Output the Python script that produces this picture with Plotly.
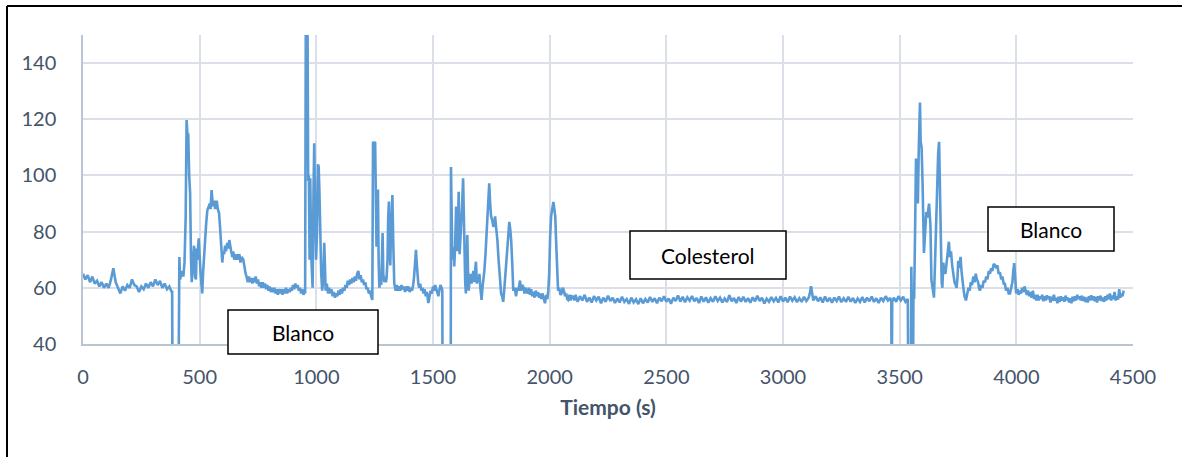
import plotly.graph_objects as go

# ---------------- data ----------------
# segment 1: first baseline, 0-411 s (with dip below the axis)
t_seg1 = [0, 10, 20, 30, 40, 50, 60, 70, 80, 90, 100, 110, 120, 130, 140, 150, 160, 170, 180, 190,
          200, 210, 220, 230, 240, 250, 260, 270, 280, 290, 300, 310, 320, 330, 340, 350, 360, 370,
          380, 382, 384, 409, 411]
v_seg1 = [65, 63, 64.5, 62, 64, 61.5, 62.5, 60.5, 62, 60, 61.5, 60, 63, 67, 62, 60, 58, 60.5, 59, 61,
          60, 63, 61, 60.5, 58.5, 60.5, 59.5, 61.5, 60, 62, 60.5, 63, 61, 62.5, 60, 61.5, 59.5, 60.5,
          58.5, 59, 20, 20, 71]

# segment 2: first Blanco peaks, 413-1050 s
t_seg2 = [413, 416, 420, 425, 430, 435, 440, 444, 448, 451, 455, 459, 463, 466, 470, 476, 480, 484,
          487, 490, 496, 500, 504, 508, 511, 515, 519, 523, 528, 533, 538, 544, 547, 551, 555, 558,
          562, 566, 570, 573, 578, 583, 587, 590, 594, 597, 601, 605, 609, 613, 618, 623, 627, 630,
          635, 640, 644, 648, 652, 656, 660, 666, 670, 675, 680, 687, 692, 697, 701, 706, 711, 716,
          721, 726, 731, 736, 740, 745, 750, 755, 760, 765, 770, 775, 780, 785, 790, 795, 800, 805,
          810, 815, 820, 825, 830, 835, 840, 845, 850, 855, 860, 865, 870, 875, 880, 885, 890, 895,
          900, 905, 910, 915, 920, 925, 930, 935, 940, 945, 950, 952, 955, 959, 962, 965, 968, 971,
          974, 978, 981, 984, 988, 991, 995, 999, 1003, 1007, 1010, 1013, 1017, 1021, 1025, 1029,
          1034, 1037, 1040, 1045, 1050]
v_seg2 = [71, 63, 64, 66, 64, 69, 85, 119.7, 114, 115, 100, 94, 70, 62, 68, 75, 64, 63,
          74, 70, 77.6, 68, 65, 61, 58, 66, 72, 77.6, 83, 87.7, 89, 90, 88, 94.8, 91, 89,
          91, 88, 90, 91, 88, 86.6, 82, 77.6, 72, 69, 73, 72, 75, 73, 76, 74, 77, 75,
          73, 71, 73, 70, 72, 70, 72, 70, 72, 69, 71, 70, 67, 65, 64, 62, 64, 62,
          63.5, 61.5, 63.5, 62, 64, 61.5, 63, 60.5, 62, 60, 62, 60, 61.5, 59.5, 61, 59, 60.5, 58.5,
          60, 58.5, 60, 58, 59.5, 57.5, 59.5, 58, 59.5, 57.5, 59.5, 58, 60, 58, 59.5, 58.5, 60, 59,
          61, 59.5, 61.5, 60, 61, 59, 60, 58, 59.5, 57.5, 59, 58, 160, 160, 160, 98, 100, 70,
          99, 72, 65, 60, 95, 111.5, 88, 70, 80, 104, 103, 95, 78, 65, 59, 62,
          76, 65, 59, 61.5, 58]

# segment 3: 1055-1576 s (with dip below the axis)
t_seg3 = [1055, 1060, 1065, 1070, 1075, 1080, 1085, 1090, 1095, 1100, 1105, 1110, 1115, 1120, 1125,
          1130, 1135, 1140, 1145, 1150, 1155, 1160, 1165, 1170, 1175, 1180, 1185, 1190, 1195, 1200,
          1205, 1210, 1215, 1220, 1225, 1230, 1235, 1240, 1243, 1248, 1252, 1256, 1258, 1261, 1264,
          1267, 1270, 1274, 1278, 1281, 1284, 1287, 1291, 1295, 1298, 1301, 1305, 1308, 1311, 1314,
          1317, 1320, 1323, 1326, 1330, 1334, 1340, 1345, 1350, 1355, 1360, 1365, 1370, 1375, 1380,
          1385, 1390, 1395, 1400, 1405, 1410, 1415, 1419, 1423, 1427, 1431, 1434, 1437, 1441, 1445,
          1450, 1455, 1459, 1464, 1469, 1474, 1480, 1485, 1490, 1495, 1500, 1505, 1509, 1514, 1518,
          1523, 1528, 1532, 1537, 1540, 1541, 1576]
v_seg3 = [60, 58, 59.5, 57, 58.5, 56.5, 58, 57, 59, 57.5, 59.5, 58, 60, 59, 61,
          60, 62.5, 61, 63, 61.5, 63.5, 62, 64, 62.5, 65, 66, 63, 64.5, 62, 63,
          61, 62, 59.5, 60, 58, 59, 57, 55.7, 112, 111, 112, 95, 74.6, 80, 95,
          70, 60, 63, 61, 70, 79.5, 65, 62, 64, 62, 63.5, 70, 85, 90.7, 75,
          68, 80, 90, 93, 75, 61.5, 59, 61, 59, 60.5, 59, 61, 59.5, 60.5, 58.5,
          60.5, 59, 60.5, 58.5, 60, 59, 61, 64, 68, 73.5, 68, 63, 61.5, 60, 61.5,
          59, 60, 58, 59.5, 57, 58.5, 54.6, 57, 59, 58, 60.5, 59, 61, 59.5, 58,
          57, 59.5, 61, 60, 59, 20, 20]

# segment 4: Colesterol-side peaks, 1577-2111 s
t_seg4 = [1577, 1580, 1583, 1587, 1591, 1595, 1599, 1602, 1605, 1610, 1614, 1618, 1621, 1625, 1629,
          1632, 1635, 1638, 1641, 1644, 1647, 1650, 1653, 1657, 1661, 1665, 1669, 1673, 1677, 1681,
          1684, 1688, 1692, 1696, 1699, 1703, 1708, 1712, 1716, 1720, 1725, 1730, 1735, 1741, 1745,
          1749, 1754, 1759, 1763, 1766, 1770, 1776, 1781, 1787, 1792, 1796, 1801, 1806, 1811, 1816,
          1821, 1827, 1831, 1835, 1840, 1844, 1850, 1856, 1861, 1866, 1873, 1877, 1882, 1887, 1892,
          1896, 1901, 1906, 1911, 1916, 1921, 1925, 1930, 1935, 1940, 1945, 1950, 1955, 1959, 1964,
          1969, 1975, 1980, 1985, 1990, 1994, 1998, 2002, 2006, 2011, 2016, 2020, 2024, 2027, 2030,
          2033, 2036, 2041, 2046, 2051, 2056, 2061, 2066, 2071, 2075, 2079, 2085, 2090, 2095, 2101,
          2106, 2111]
v_seg4 = [103, 80, 70, 74.4, 67.6, 75, 88.9, 80, 73, 94.2, 72, 78, 81.7, 90, 99,
          80, 70, 62, 58, 68, 78.8, 66, 59, 63, 65, 61.5, 64, 66, 62, 66,
          69.3, 61.5, 64, 62, 65, 60, 55.7, 60, 62.6, 66, 72, 79.3, 88, 97.2, 90,
          85.4, 84, 81.7, 83, 85.4, 82, 77, 70, 61.5, 58, 57, 55, 60, 65, 71,
          78, 83.5, 81, 77, 68, 59, 60, 57, 60, 59, 62.6, 59, 61, 60.4, 58,
          60, 59, 58, 60, 57.5, 59.5, 57, 58.6, 56.5, 59, 57, 58.5, 56.5, 58, 56,
          58, 56, 54.5, 57.5, 56, 59, 65, 78, 85.4, 88, 90.6, 88, 85.4, 78, 70,
          63, 59, 60, 57.5, 58, 60, 59, 57, 58, 56, 55.7, 57.5, 55.5, 57, 56.8,
          55.5, 57.5]

# segment 5: Colesterol plateau, 2120-3535 s
t_seg5 = [2120, 2130, 2140, 2150, 2160, 2170, 2180, 2190, 2200, 2210, 2220, 2230, 2240, 2250, 2260,
          2270, 2280, 2290, 2300, 2310, 2320, 2330, 2340, 2350, 2360, 2370, 2380, 2390, 2400, 2410,
          2420, 2430, 2440, 2450, 2460, 2470, 2480, 2490, 2500, 2510, 2520, 2530, 2540, 2550, 2560,
          2570, 2580, 2590, 2600, 2610, 2620, 2630, 2640, 2650, 2660, 2670, 2680, 2690, 2700, 2710,
          2720, 2730, 2740, 2750, 2760, 2770, 2780, 2790, 2800, 2810, 2820, 2830, 2840, 2850, 2860,
          2870, 2880, 2890, 2900, 2910, 2920, 2930, 2940, 2950, 2960, 2970, 2980, 2990, 3000, 3010,
          3020, 3030, 3040, 3050, 3060, 3070, 3080, 3090, 3100, 3110, 3115, 3120, 3125, 3130, 3140,
          3150, 3160, 3170, 3180, 3190, 3200, 3210, 3220, 3230, 3240, 3250, 3260, 3270, 3280, 3290,
          3300, 3310, 3320, 3330, 3340, 3350, 3360, 3370, 3380, 3390, 3400, 3410, 3420, 3430, 3440,
          3450, 3460, 3464, 3466, 3468, 3475, 3485, 3495, 3505, 3515, 3525, 3535]
v_seg5 = [55, 57, 55.5, 57.5, 55, 56.5, 54.8, 57, 55.5, 56.8, 54.5, 56.5, 55, 57.2, 55.3,
          56.5, 54.6, 56.2, 54.8, 56.8, 55, 56, 54.3, 56.5, 54.8, 55.9, 54.2, 56.3, 54.5, 56,
          54.8, 56.7, 55, 56.3, 54.5, 56.5, 55.2, 57, 55, 56.2, 54.3, 56.5, 55.3, 57.3, 55.1,
          56.8, 54.9, 56.6, 55.4, 57.1, 55.2, 56.4, 54.6, 56.9, 55.1, 56.6, 54.7, 56.3, 55, 57,
          55.3, 56.5, 54.8, 56.2, 54.9, 57.4, 55.2, 56.4, 54.6, 56.7, 55.1, 56.8, 55, 56.3, 54.7,
          56.6, 55.2, 57.2, 55.3, 56.5, 54.4, 56.1, 55, 56.7, 55.2, 56.4, 54.8, 57, 55.1, 56.5,
          54.9, 56.9, 55.4, 56.6, 54.9, 56.3, 55, 56.8, 55.3, 56.5, 58, 60.6, 58, 55.5, 57,
          55.2, 56.6, 54.8, 56.9, 55.1, 56.4, 54.7, 56.5, 55.3, 56.9, 54.9, 56.3, 55, 56.8, 55.1,
          56.4, 54.6, 56.2, 55, 56.7, 54.8, 56.5, 55.2, 56.9, 55, 56.3, 54.6, 56.5, 55.3, 57,
          55.5, 56.4, 55, 20, 55, 56.5, 55, 57, 55.5, 56.8, 55, 56]

# segment 6: second Blanco, 3537-4460 s
t_seg6 = [3537, 3548, 3550, 3552, 3554, 3557, 3559, 3562, 3566, 3570, 3574, 3578, 3582, 3587, 3590,
          3594, 3598, 3601, 3604, 3608, 3611, 3614, 3618, 3622, 3626, 3629, 3632, 3636, 3641, 3647,
          3652, 3656, 3660, 3665, 3669, 3672, 3675, 3677, 3680, 3683, 3687, 3691, 3696, 3700, 3705,
          3711, 3715, 3720, 3725, 3730, 3735, 3740, 3744, 3748, 3751, 3755, 3761, 3765, 3769, 3773,
          3778, 3784, 3790, 3795, 3800, 3805, 3810, 3816, 3821, 3826, 3831, 3836, 3840, 3844, 3849,
          3855, 3860, 3866, 3871, 3876, 3882, 3887, 3892, 3897, 3903, 3909, 3914, 3919, 3924, 3930,
          3935, 3940, 3946, 3951, 3956, 3962, 3967, 3973, 3978, 3983, 3987, 3991, 3995, 3999, 4005,
          4010, 4015, 4020, 4025, 4030, 4035, 4040, 4045, 4050, 4055, 4060, 4065, 4071, 4076, 4081,
          4086, 4091, 4096, 4101, 4106, 4111, 4116, 4121, 4126, 4131, 4136, 4141, 4146, 4151, 4156,
          4161, 4166, 4171, 4176, 4181, 4186, 4191, 4196, 4201, 4206, 4211, 4216, 4221, 4226, 4231,
          4236, 4241, 4246, 4251, 4256, 4261, 4266, 4271, 4276, 4281, 4286, 4291, 4296, 4301, 4306,
          4311, 4316, 4321, 4326, 4331, 4336, 4341, 4346, 4351, 4356, 4361, 4366, 4371, 4376, 4381,
          4386, 4391, 4396, 4401, 4406, 4411, 4416, 4421, 4426, 4431, 4436, 4441, 4446, 4450, 4455,
          4460]
v_seg6 = [20, 20, 67.5, 60, 20, 20, 57, 56, 80, 106, 104, 90, 110, 126, 112,
          110, 98, 80, 72.4, 78, 85, 87, 85, 88, 90, 86, 82, 62.8, 60, 56.5,
          70, 85, 100, 108, 112, 100, 80, 67.5, 62, 60, 69, 66, 65, 68, 72,
          76.4, 71, 73, 68, 64, 62, 61, 60, 64, 69.6, 67, 71, 66, 62, 60,
          57, 55.5, 58, 60, 59, 62, 61, 64, 62, 65, 63, 62, 60, 59, 61,
          60, 62.5, 62, 64, 63, 66, 65, 67, 66, 68.5, 68, 67, 68, 65, 65.5,
          63, 64, 61.5, 61.4, 59, 60, 58, 58, 60, 62, 66, 68.8, 64, 58, 59.5,
          57.5, 59, 58, 60, 58.5, 60.5, 59, 57.5, 59, 57, 58.5, 56.5, 59, 56, 57.5,
          55.5, 57.5, 55.5, 57, 56, 57.5, 55.2, 57, 55.5, 57.3, 56, 57, 54.8, 56.8, 55.3,
          57.5, 55.5, 56.5, 54.5, 56.8, 55, 57, 55.5, 56.6, 55, 57.2, 55.6, 56.5, 54.8, 56.3,
          54.5, 56.8, 55.2, 57, 55.5, 57.5, 56, 57, 55.5, 57.2, 55.3, 56.8, 55, 56.5, 54.8,
          57, 55.5, 57.3, 55.6, 57, 55.2, 56.8, 54.8, 57, 55.5, 57.2, 55.3, 56.5, 55, 57,
          55.5, 57.5, 56, 58, 55.5, 57.2, 56, 58.5, 55.5, 57, 55.8, 59.5, 56.5, 58, 57,
          59]

time_s = t_seg1 + t_seg2 + t_seg3 + t_seg4 + t_seg5 + t_seg6
signal = v_seg1 + v_seg2 + v_seg3 + v_seg4 + v_seg5 + v_seg6

x_ticks = [0, 500, 1000, 1500, 2000, 2500, 3000, 3500, 4000, 4500]
y_ticks = [40, 60, 80, 100, 120, 140]
labels = ["Blanco", "Colesterol", "Blanco"]

# ---------------- figure ----------------
W, H = 1182, 457
L, R, T, B = 83, 49, 35, 113
PW, PH = W - L - R, H - T - B

def px(x):
    return (x - L) / PW

def py(y):
    return (H - B - y) / PH

fig = go.Figure()
fig.add_trace(go.Scatter(x=time_s, y=signal, mode="lines",
                         line=dict(color="#5b9bd5", width=2.6),
                         showlegend=False, hoverinfo="skip"))

FONT = "Lato, 'Open Sans', sans-serif"
TXT = "#44546a"
GRID = "#dbdfe7"
AXL = "#bcc4d1"

fig.update_layout(
    width=W, height=H,
    margin=dict(l=L, r=R, t=T, b=B, pad=0),
    paper_bgcolor="white", plot_bgcolor="white",
    font=dict(family=FONT, color=TXT, size=20),
    xaxis=dict(range=[0, 4500], tickvals=x_ticks, showgrid=True, gridcolor=GRID, gridwidth=1.5,
               showline=True, linecolor=AXL, linewidth=1.5, zeroline=False, ticks="",
               ticklabelstandoff=14, tickfont=dict(size=20, color=TXT, family=FONT),
               title=dict(text="<b>Tiempo (s)</b>", font=dict(size=21, color=TXT, family=FONT),
                          standoff=14)),
    yaxis=dict(range=[40, 150], tickvals=y_ticks, showgrid=True, gridcolor=GRID, gridwidth=1.5,
               showline=True, linecolor=AXL, linewidth=1.5, zeroline=False, ticks="",
               ticklabelstandoff=21, tickfont=dict(size=20, color=TXT, family=FONT)),
)

# outer frame (top and left edges visible)
fig.add_shape(type="line", xref="paper", yref="paper", x0=px(7), x1=px(1185), y0=py(6), y1=py(6),
              line=dict(color="black", width=2))
fig.add_shape(type="line", xref="paper", yref="paper", x0=px(7), x1=px(7), y0=py(6), y1=py(460),
              line=dict(color="black", width=2))

# text boxes
boxes = [(228, 378, 310, 354), (630, 786, 231, 279), (988, 1114, 207, 251)]
for (x0, x1, y0, y1), lab in zip(boxes, labels):
    fig.add_shape(type="rect", xref="paper", yref="paper",
                  x0=px(x0), x1=px(x1), y0=py(y1), y1=py(y0),
                  line=dict(color="black", width=1.5), fillcolor="white", layer="above")
    fig.add_annotation(xref="paper", yref="paper", x=px((x0 + x1) / 2), y=py((y0 + y1) / 2),
                       text=lab, showarrow=False, xanchor="center", yanchor="middle",
                       font=dict(family=FONT, size=21, color="black"))

fig.write_html("out.html")
